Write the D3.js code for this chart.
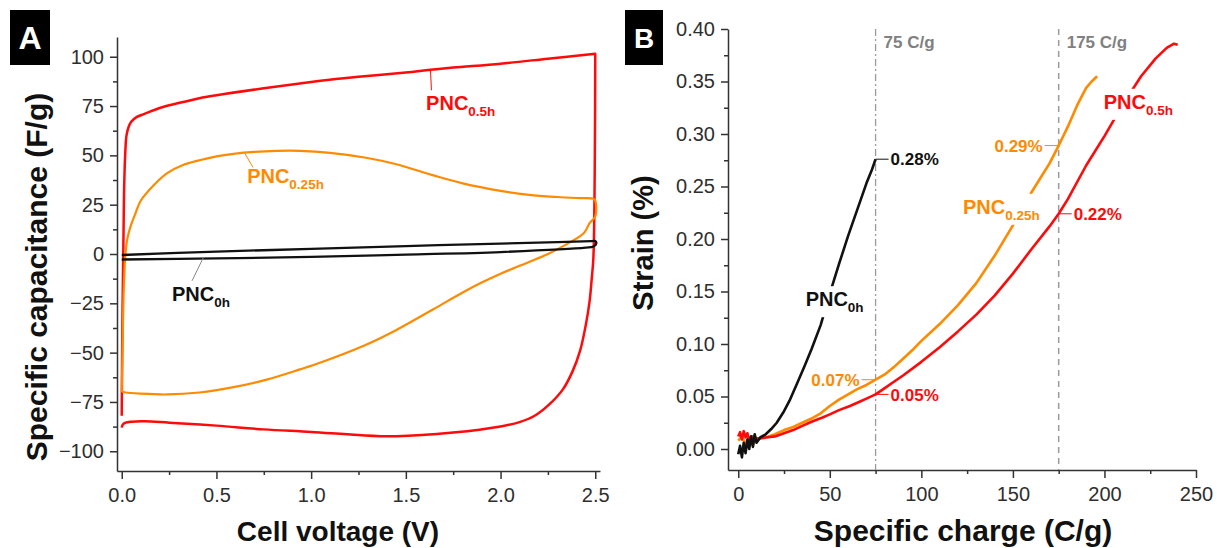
<!DOCTYPE html>
<html>
<head>
<meta charset="utf-8">
<script src="https://cdn.jsdelivr.net/npm/d3@7"></script>
<style>
  body { margin: 0; background: #fff; }
  svg { display: block; }
  text { font-family: "Liberation Sans", Arial, Helvetica, sans-serif; }
</style>
</head>
<body>
<svg id="fig" width="1217" height="548"></svg>
<script>
// ---------- Panel A: cyclic voltammograms (specific capacitance vs cell voltage) ----------
// Each loop: charge sweep (0 -> 2.5 V) followed by discharge sweep (2.5 -> 0 V)
const pnc05hVoltage = [
  0.000, 0.003, 0.008, 0.012, 0.018, 0.025, 0.035, 0.05, 0.08, 0.12, 0.2, 0.3, 0.41, 0.5, 0.75, 0.94, 1.05, 1.25, 1.5, 1.63, 1.75, 2.0, 2.25, 2.5,
  2.5, 2.497, 2.49, 2.48, 2.47, 2.45, 2.42, 2.38, 2.33, 2.26, 2.18, 2.1, 2.0, 1.75, 1.45, 1.25, 1.0, 0.75, 0.5, 0.25, 0.12, 0.05, 0.02, 0.005, 0.0
];
const pnc05hCapacitance = [
  -82, -40, 0, 30, 50, 60, 64, 67, 69.5, 71, 74, 76.5, 79, 80.5, 84, 86.4, 87.8, 89.8, 92, 93.4, 94.5, 96.5, 99, 101.5,
  101.5, 40, -2, -14, -24, -36, -49, -59.5, -68.5, -76, -82, -85.2, -87.4, -90.5, -92.4, -91.8, -90.2, -88.9, -87, -85.5, -84.8, -85, -85.5, -86.5, -88
];

const pnc025hVoltage = [
  0.0, 0.004, 0.01, 0.018, 0.03, 0.05, 0.07, 0.1, 0.17, 0.24, 0.32, 0.41, 0.5, 0.59, 0.7, 0.82, 0.94, 1.1, 1.29, 1.45, 1.64, 1.8, 2.0, 2.15, 2.3, 2.42, 2.49,
  2.5, 2.505, 2.5, 2.47, 2.44, 2.35, 2.25, 2.1, 2.0, 1.9, 1.8, 1.645, 1.45, 1.29, 1.05, 0.94, 0.76, 0.59, 0.41, 0.24, 0.1, 0.02, 0.0
];
const pnc025hCapacitance = [
  -70, -50, -20, -2, 8, 15, 20, 27, 35, 41, 45, 47.5, 49.5, 50.8, 51.8, 52.3, 52.3, 51.3, 48.8, 45.5, 40, 35.8, 32, 30, 28.9, 28.3, 28,
  27, 23, 19, 15.6, 10.6, 5, 0, -6, -10, -14.5, -19.5, -28, -38.5, -46, -55, -58.5, -63.8, -67.5, -70.2, -71.2, -70.8, -70.2, -69.7
];

const pnc0hVoltage = [
  0.0, 0.5, 1.0, 1.5, 2.0, 2.3, 2.48, 2.5,
  2.505, 2.49, 2.45, 2.0, 1.5, 1.0, 0.5, 0.0
];
const pnc0hCapacitance = [
  -0.5, 1.2, 2.6, 4.0, 5.3, 6.0, 6.5, 6.6,
  5.2, 3.8, 3.2, 1.0, -0.3, -1.5, -2.2, -2.8
];

const voltageTicks = [0, 0.5, 1.0, 1.5, 2.0, 2.5];
const voltageMinorTicks = [0.25, 0.75, 1.25, 1.75, 2.25];
const capacitanceTicks = [-100, -75, -50, -25, 0, 25, 50, 75, 100];
const capacitanceMinorTicks = [-87.5, -62.5, -37.5, -12.5, 12.5, 37.5, 62.5, 87.5];

// ---------- Panel B: strain vs specific charge ----------
const pnc0hCharge = [0, 1, 2, 3, 4, 5, 6, 7, 8, 9, 10, 12, 15, 18, 21, 25, 28, 32, 36, 40, 45, 50, 55, 60, 65, 70, 73, 75];
const pnc0hStrain = [-0.005, 0.003, -0.008, 0.006, -0.004, 0.009, 0.0, 0.012, 0.002, 0.014, 0.006, 0.011, 0.014, 0.019, 0.025, 0.036, 0.046, 0.062, 0.078, 0.095, 0.118, 0.148, 0.176, 0.203, 0.228, 0.253, 0.266, 0.276];

const pnc025hCharge = [0, 2, 4, 6, 8, 10, 15, 20, 25, 30, 35, 40, 45, 50, 55, 60, 65, 70, 75, 80, 85, 90, 95, 100, 110, 120, 130, 140, 150, 160, 170, 175, 180, 185, 190, 193, 196];
const pnc025hStrain = [0.008, 0.012, 0.005, 0.011, 0.004, 0.009, 0.011, 0.014, 0.018, 0.021, 0.025, 0.029, 0.034, 0.041, 0.047, 0.052, 0.057, 0.061, 0.066, 0.071, 0.078, 0.086, 0.094, 0.103, 0.119, 0.137, 0.158, 0.184, 0.213, 0.244, 0.272, 0.289, 0.307, 0.327, 0.344, 0.35, 0.355];

const pnc05hCharge = [0, 1, 2, 3, 4, 5, 6, 8, 10, 15, 20, 25, 30, 35, 40, 46, 50, 55, 61, 65, 70, 75, 80, 85, 90, 100, 110, 120, 130, 140, 150, 160, 170, 175, 180, 190, 200, 210, 220, 228, 234, 238, 240];
const pnc05hStrain = [0.012, 0.016, 0.009, 0.017, 0.011, 0.015, 0.008, 0.012, 0.01, 0.011, 0.012, 0.015, 0.018, 0.022, 0.026, 0.03, 0.033, 0.037, 0.041, 0.044, 0.048, 0.052, 0.058, 0.064, 0.070, 0.083, 0.097, 0.112, 0.128, 0.146, 0.167, 0.19, 0.212, 0.224, 0.238, 0.27, 0.298, 0.328, 0.355, 0.372, 0.382, 0.386, 0.385];

const chargeTicks = [0, 50, 100, 150, 200, 250];
const chargeMinorTicks = [25, 75, 125, 175, 225];
const strainTicks = [0, 0.05, 0.10, 0.15, 0.20, 0.25, 0.30, 0.35, 0.40];
const strainMinorTicks = [0.025, 0.075, 0.125, 0.175, 0.225, 0.275, 0.325, 0.375];
const markerCharges = [75, 175];

const RED = "#ff0a0a";
const ORANGE = "#ff8a00";
const BLACK = "#111111";
const AXIS = "#333333";

const svg = d3.select("#fig");

// scales
const xA = d3.scaleLinear().domain([-0.025, 2.525]).range([117, 600]);
const yA = d3.scaleLinear().domain([-110, 110]).range([471, 37]);
const xB = d3.scaleLinear().domain([-5.6, 250]).range([728, 1196]);
const yB = d3.scaleLinear().domain([-0.02, 0.40]).range([470, 29]);

function styleAxis(g, fontSize) {
  g.select(".domain").attr("stroke", AXIS).attr("stroke-width", 1.5);
  g.selectAll(".tick line").attr("stroke", AXIS).attr("stroke-width", 1.5);
  g.selectAll(".tick text").attr("fill", "#2e2e2e").attr("font-size", fontSize)
    .attr("font-family", '"Liberation Sans", Arial, sans-serif');
}

function drawAxes(x, y, xTicks, xMinor, yTicks, yMinor, xFmt, yFmt) {
  const yBase = y.range()[0];
  const xBase = x.range()[0];
  const gx = svg.append("g").attr("transform", `translate(0,${yBase})`)
    .call(d3.axisBottom(x).tickValues(xTicks).tickFormat(xFmt).tickSize(8).tickSizeOuter(0).tickPadding(9));
  styleAxis(gx, 20);
  const gxm = svg.append("g").attr("transform", `translate(0,${yBase})`)
    .call(d3.axisBottom(x).tickValues(xMinor).tickFormat("").tickSize(4));
  gxm.select(".domain").remove();
  styleAxis(gxm, 20);

  const gy = svg.append("g").attr("transform", `translate(${xBase},0)`)
    .call(d3.axisLeft(y).tickValues(yTicks).tickFormat(yFmt).tickSize(7).tickSizeOuter(0).tickPadding(6));
  styleAxis(gy, 20);
  const gym = svg.append("g").attr("transform", `translate(${xBase},0)`)
    .call(d3.axisLeft(y).tickValues(yMinor).tickFormat("").tickSize(4));
  gym.select(".domain").remove();
  styleAxis(gym, 20);
}

drawAxes(xA, yA, voltageTicks, voltageMinorTicks, capacitanceTicks, capacitanceMinorTicks,
  d3.format(".1f"), d3.format("d"));
drawAxes(xB, yB, chargeTicks, chargeMinorTicks, strainTicks, strainMinorTicks,
  d3.format("d"), d3.format(".2f"));

// axis titles
function title(x, y, txt, rotate, size) {
  svg.append("text").attr("x", x).attr("y", y)
    .attr("transform", rotate ? `rotate(-90,${x},${y})` : null)
    .attr("text-anchor", "middle").attr("font-weight", "bold").attr("font-size", size)
    .attr("fill", "#111").text(txt);
}
title(338, 541, "Cell voltage (V)", false, 28);
title(47, 277, "Specific capacitance (F/g)", true, 30);
title(963, 541, "Specific charge (C/g)", false, 30);
title(653, 243, "Strain (%)", true, 29);

// panel tags
function panelTag(x, y, w, h, letter, size) {
  svg.append("rect").attr("x", x).attr("y", y).attr("width", w).attr("height", h).attr("fill", "#000");
  svg.append("text").attr("x", x + w / 2).attr("y", y + h / 2).attr("dy", "0.36em")
    .attr("text-anchor", "middle").attr("font-weight", "bold").attr("font-size", size)
    .attr("fill", "#fff").text(letter);
}
panelTag(10, 10, 40, 55, "A", 32);
panelTag(625, 10, 38, 55, "B", 28);

// ---------- Panel A curves ----------
const loopLine = d3.line().x(d => xA(d[0])).y(d => yA(d[1])).curve(d3.curveCatmullRom.alpha(0.5));
const zip = (a, b) => a.map((v, i) => [v, b[i]]);

svg.append("path").datum(zip(pnc05hVoltage, pnc05hCapacitance)).attr("d", loopLine)
  .attr("fill", "none").attr("stroke", RED).attr("stroke-width", 2.5).attr("stroke-linejoin", "round");
svg.append("path").datum(zip(pnc025hVoltage, pnc025hCapacitance)).attr("d", loopLine)
  .attr("fill", "none").attr("stroke", ORANGE).attr("stroke-width", 2.2).attr("stroke-linejoin", "round");
svg.append("path").datum(zip(pnc0hVoltage, pnc0hCapacitance)).attr("d", loopLine)
  .attr("fill", "none").attr("stroke", BLACK).attr("stroke-width", 2.3).attr("stroke-linejoin", "round");

// sample labels with subscript
function pncLabel(x, y, sub, color, withBox) {
  const t = svg.append("text").attr("x", x).attr("y", y).attr("fill", color)
    .attr("font-weight", "bold").attr("font-size", 20);
  t.append("tspan").text("PNC");
  t.append("tspan").attr("font-size", 13.5).attr("dy", 6).text(sub);
  if (withBox) {
    const b = t.node().getBBox();
    svg.insert("rect", () => t.node())
      .attr("x", b.x - 4).attr("y", b.y - 2).attr("width", b.width + 8).attr("height", b.height + 4)
      .attr("fill", "#fff");
  }
  return t;
}
function leader(x1, y1, x2, y2, color) {
  svg.append("line").attr("x1", x1).attr("y1", y1).attr("x2", x2).attr("y2", y2)
    .attr("stroke", color).attr("stroke-width", 1);
}

leader(xA(1.63), yA(93.4), xA(1.635), yA(83), RED);
pncLabel(xA(1.607), yA(73.2), "0.5h", RED, false);
leader(xA(0.65), yA(51), xA(0.693), yA(43.9), ORANGE);
pncLabel(xA(0.662), yA(35.9), "0.25h", ORANGE, false);
leader(xA(0.43), yA(-2), xA(0.371), yA(-13.6), "#888");
pncLabel(xA(0.265), yA(-23.7), "0h", BLACK, false);

// ---------- Panel B curves ----------
// reference charge markers
svg.append("line").attr("x1", xB(markerCharges[0])).attr("x2", xB(markerCharges[0]))
  .attr("y1", yB.range()[1]).attr("y2", yB.range()[0])
  .attr("stroke", "#9a9a9a").attr("stroke-width", 1.3).attr("stroke-dasharray", "7,3,2,3");
svg.append("line").attr("x1", xB(markerCharges[1])).attr("x2", xB(markerCharges[1]))
  .attr("y1", yB.range()[1]).attr("y2", yB.range()[0])
  .attr("stroke", "#9a9a9a").attr("stroke-width", 1.5).attr("stroke-dasharray", "6,5");
markerCharges.forEach(c => {
  svg.append("text").attr("x", xB(c) + 8).attr("y", 48).attr("fill", "#808080")
    .attr("font-weight", "bold").attr("font-size", 17).text(`${c} C/g`);
});

const strainLine = d3.line().x(d => xB(d[0])).y(d => yB(d[1]));
svg.append("path").datum(zip(pnc025hCharge, pnc025hStrain)).attr("d", strainLine)
  .attr("fill", "none").attr("stroke", ORANGE).attr("stroke-width", 2.6).attr("stroke-linejoin", "round");
svg.append("path").datum(zip(pnc05hCharge, pnc05hStrain)).attr("d", strainLine)
  .attr("fill", "none").attr("stroke", RED).attr("stroke-width", 2.6).attr("stroke-linejoin", "round");
svg.append("path").datum(zip(pnc0hCharge, pnc0hStrain)).attr("d", strainLine)
  .attr("fill", "none").attr("stroke", BLACK).attr("stroke-width", 2.6).attr("stroke-linejoin", "round");

pncLabel(xB(36.8), yB(0.136), "0h", BLACK, true);
pncLabel(xB(122.7), yB(0.224), "0.25h", ORANGE, true);
pncLabel(xB(199.6), yB(0.324), "0.5h", RED, true);

// strain read-outs at the marker charges
const pct = v => d3.format(".2f")(v) + "%";
function strainAt(charges, strains, c) { return strains[charges.indexOf(c)]; }
function readout(charges, strains, c, side, color) {
  const s = strainAt(charges, strains, c);
  const x0 = xB(c), y0 = yB(s);
  const x1 = side === "right" ? x0 + 13 : x0 - 14;
  leader(x0, y0, x1, y0, color);
  svg.append("text").attr("x", side === "right" ? x1 + 2 : x1 - 2).attr("y", y0).attr("dy", "0.36em")
    .attr("text-anchor", side === "right" ? "start" : "end")
    .attr("fill", color).attr("font-weight", "bold").attr("font-size", 17).text(pct(s));
}
readout(pnc0hCharge, pnc0hStrain, 75, "right", BLACK);
readout(pnc025hCharge, pnc025hStrain, 75, "left", ORANGE);
readout(pnc05hCharge, pnc05hStrain, 75, "right", RED);
readout(pnc025hCharge, pnc025hStrain, 175, "left", ORANGE);
readout(pnc05hCharge, pnc05hStrain, 175, "right", RED);
</script>
</body>
</html>
